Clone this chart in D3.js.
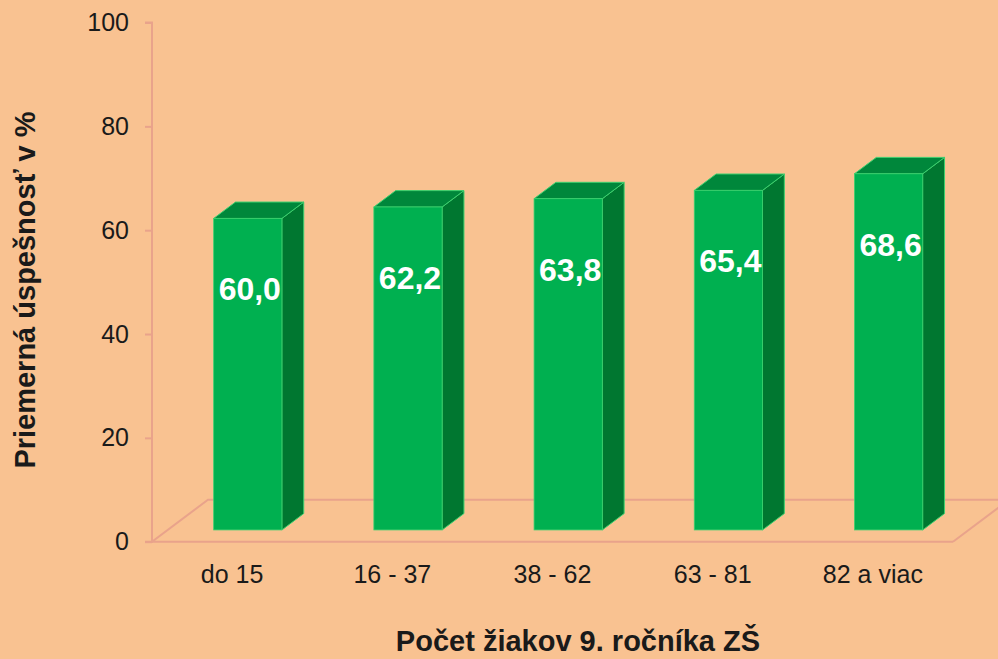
<!DOCTYPE html>
<html>
<head>
<meta charset="utf-8">
<script src="https://cdn.jsdelivr.net/npm/d3@7"></script>
<style>
  html, body { margin: 0; padding: 0; background: #F9C291; }
  svg { display: block; font-family: Arial, "Liberation Sans", sans-serif; }
</style>
</head>
<body>
<svg id="chart" width="998" height="659"></svg>
<script>
// Average success rate by number of 9th-grade pupils
const categories = ["do 15", "16 - 37", "38 - 62", "63 - 81", "82 a viac"];
const values = [60.0, 62.2, 63.8, 65.4, 68.6];
const yTicks = [0, 20, 40, 60, 80, 100];
const yTitle = "Priemerná úspešnosť v %";
const xTitle = "Počet žiakov 9. ročníka ZŠ";

const W = 998, H = 659;
const svg = d3.select("#chart");

const colors = {
  bg: "#F9C291",
  axis: "#E9A38B",
  front: "#00B050",
  top: "#00873B",
  side: "#007730",
  edge: "#3DD06F",
  text: "#1A1A1A"
};

svg.append("rect").attr("width", W).attr("height", H).attr("fill", colors.bg);

// Front plane of the 3D box
const x = d3.scaleBand().domain(categories).range([152, 953]).padding(0);
const y = d3.scaleLinear().domain([0, 100]).range([541.7, 22.5]);

// Oblique depth projection: full floor depth offset
const depth = { dx: 56, dy: -42 };
const zFront = 0.28, zBack = 0.67;
const off = z => [depth.dx * z, depth.dy * z];
const barW = x.bandwidth() * 0.426;

// Floor
const floorG = svg.append("g")
  .attr("fill", "none").attr("stroke", colors.axis).attr("stroke-width", 2);
const [fdx, fdy] = off(1);
floorG.append("path").attr("d", d3.line()([
  [x.range()[1], y(0)], [x.range()[0], y(0)], [x.range()[0] + fdx, y(0) + fdy], [W + 20, y(0) + fdy]
]));
floorG.append("path").attr("d", d3.line()([
  [x.range()[1], y(0)], [x.range()[1] + fdx, y(0) + fdy]
]));

// Y axis
const yAxis = d3.axisLeft(y).tickValues(yTicks).tickSize(7).tickPadding(16)
  .tickFormat(d3.format("d"));
const gy = svg.append("g").attr("transform", `translate(${x.range()[0]},0)`).call(yAxis);
gy.select(".domain").attr("stroke", colors.axis).attr("stroke-width", 2)
  .attr("d", `M-7,${y(100)}H0V${y(0)}H-7`);
gy.selectAll(".tick line").attr("stroke", colors.axis).attr("stroke-width", 2);
gy.selectAll(".tick text").attr("fill", colors.text)
  .style("font-size", "25px").style("font-family", "Arial, 'Liberation Sans', sans-serif");

// Bars
const [f0x, f0y] = off(zFront);
const [b0x, b0y] = off(zBack);
const ddx = b0x - f0x, ddy = b0y - f0y;

const bars = svg.append("g").selectAll("g").data(categories.map((c, i) => ({ c, v: values[i] })))
  .join("g");

bars.each(function (d) {
  const g = d3.select(this);
  const left = x(d.c) + (x.bandwidth() - barW) / 2 + f0x;
  const right = left + barW;
  const top = y(d.v) + f0y;
  const bottom = y(0) + f0y;
  // side face
  g.append("path").attr("d", d3.line()([
    [right, top], [right + ddx, top + ddy], [right + ddx, bottom + ddy], [right, bottom]
  ]) + "Z").attr("fill", colors.side).attr("stroke", colors.edge).attr("stroke-width", 1)
    .attr("stroke-linejoin", "round");
  // top face
  g.append("path").attr("d", d3.line()([
    [left, top], [left + ddx, top + ddy], [right + ddx, top + ddy], [right, top]
  ]) + "Z").attr("fill", colors.top).attr("stroke", colors.edge).attr("stroke-width", 1)
    .attr("stroke-linejoin", "round");
  // front face
  g.append("rect").attr("x", left).attr("y", top).attr("width", barW).attr("height", bottom - top)
    .attr("fill", colors.front).attr("stroke", colors.edge).attr("stroke-width", 0.8);
  // value label
  g.append("text")
    .attr("x", left + barW / 2 + 2)
    .attr("y", top + 82)
    .attr("text-anchor", "middle")
    .attr("fill", "#FFFFFF")
    .style("font-weight", "bold")
    .style("font-size", "32px")
    .text(d3.format(".1f")(d.v).replace(".", ","));
});

// Category labels
svg.append("g").selectAll("text").data(categories).join("text")
  .attr("x", d => x(d) + x.bandwidth() / 2)
  .attr("y", 583)
  .attr("text-anchor", "middle")
  .attr("fill", colors.text)
  .style("font-size", "25px")
  .text(d => d);

// Axis titles
svg.append("text")
  .attr("transform", "translate(35,290) rotate(-90)")
  .attr("text-anchor", "middle")
  .attr("fill", colors.text)
  .style("font-weight", "bold").style("font-size", "29px")
  .text(yTitle);

svg.append("text")
  .attr("x", 578).attr("y", 651)
  .attr("text-anchor", "middle")
  .attr("fill", colors.text)
  .style("font-weight", "bold").style("font-size", "29px")
  .text(xTitle);
</script>
</body>
</html>
